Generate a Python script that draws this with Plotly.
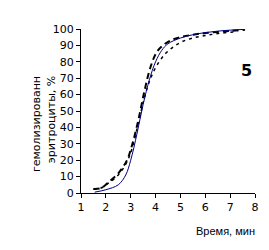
import plotly.graph_objects as go

x_solid = [1.55, 2.0, 2.5, 2.8, 3.0, 3.25, 3.5, 3.75, 4.0, 4.25, 4.5, 5.0, 5.5, 6.0, 6.5, 7.0, 7.6]
y_solid = [0.5, 2, 5, 11, 20, 36, 54, 69, 80, 87, 91, 94.5, 96.5, 97.8, 98.7, 99.3, 99.8]

x_dash = [1.5, 1.8, 2.1, 2.5, 2.85, 3.05, 3.3, 3.55, 3.8, 4.05, 4.3, 4.6, 5.0, 5.5, 6.0, 7.0, 7.6]
y_dash = [2.5, 3, 6.5, 12, 20, 29, 44, 62, 77, 86, 90, 93, 95, 96.5, 97.5, 98.8, 99.5]

x_dot = [1.5, 1.8, 2.1, 2.5, 2.85, 3.05, 3.3, 3.55, 3.8, 4.1, 4.4, 4.75, 5.1, 5.5, 6.0, 6.5, 7.3]
y_dot = [2.5, 3, 6, 11, 19, 27, 42, 58, 70, 79, 85, 89.5, 92.5, 94.5, 96, 97.2, 98.5]

x_ticks = [1, 2, 3, 4, 5, 6, 7, 8]
y_ticks = [0, 10, 20, 30, 40, 50, 60, 70, 80, 90, 100]

fig = go.Figure()
fig.add_trace(go.Scatter(x=x_dot, y=y_dot, mode="lines", line=dict(color="black", width=1.5, dash="3px,4px", shape="spline"), showlegend=False))
fig.add_trace(go.Scatter(x=x_dash, y=y_dash, mode="lines", line=dict(color="black", width=2, dash="6px,4px", shape="spline"), showlegend=False))
fig.add_trace(go.Scatter(x=x_solid, y=y_solid, mode="lines", line=dict(color="#000080", width=1, shape="spline"), showlegend=False))

L, T, W, H = 81, 29, 178, 164

def px(x):
    return (x - L) / W

def py(y):
    return (T + H - y) / H

fig.update_layout(
    width=269, height=250,
    margin=dict(l=L, r=269 - L - W, t=T, b=250 - T - H),
    paper_bgcolor="white", plot_bgcolor="white",
    font=dict(family="DejaVu Sans", size=11, color="black"),
    xaxis=dict(range=[1, 8], tickvals=x_ticks, ticks="outside", ticklen=4, tickcolor="black",
               showline=True, linecolor="black", linewidth=1, showgrid=False, zeroline=False,
               tickfont=dict(family="DejaVu Sans", size=11)),
    yaxis=dict(range=[0, 100], tickvals=y_ticks, ticks="outside", ticklen=4, tickcolor="black",
               showline=True, linecolor="black", linewidth=1, showgrid=False, zeroline=False,
               tickfont=dict(family="DejaVu Sans", size=11)),
    annotations=[
        dict(text="гемолизированн", x=px(35), y=py(74), xref="paper", yref="paper",
             xanchor="center", yanchor="top", textangle=-90, showarrow=False,
             font=dict(family="DejaVu Sans", size=11)),
        dict(text="эритроциты, %", x=px(51), y=py(74), xref="paper", yref="paper",
             xanchor="center", yanchor="top", textangle=-90, showarrow=False,
             font=dict(family="DejaVu Sans", size=11)),
        dict(text="<b>5</b>", x=px(250), y=py(70), xref="paper", yref="paper",
             xanchor="center", yanchor="middle", showarrow=False,
             font=dict(family="DejaVu Sans", size=16)),
        dict(text="Время, мин", x=px(261), y=py(231), xref="paper", yref="paper",
             xanchor="right", yanchor="middle", showarrow=False,
             font=dict(family="Liberation Sans", size=11)),
    ],
)

fig.write_html("out.html")
